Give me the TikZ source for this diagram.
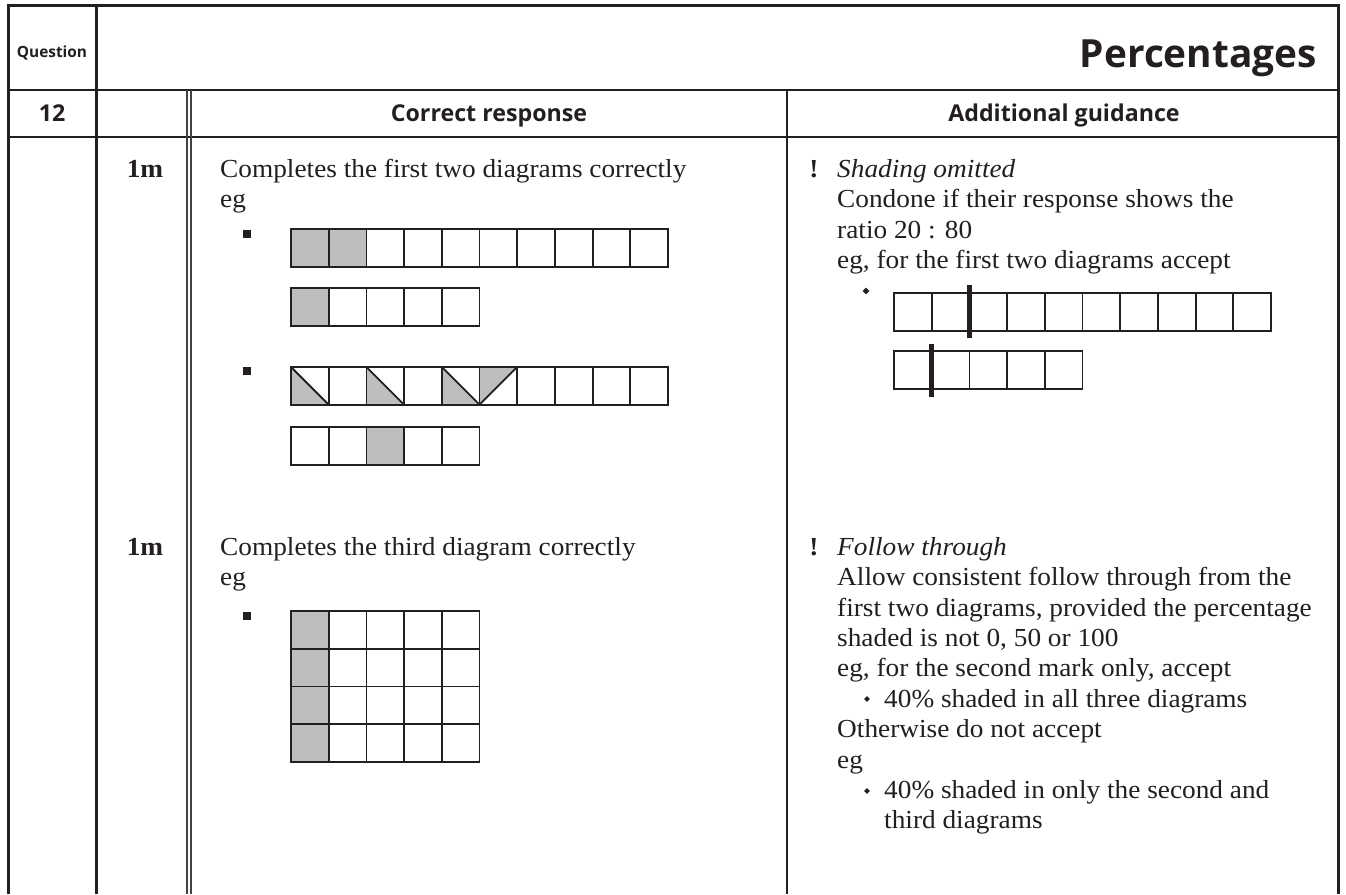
\documentclass[tikz,border=0pt]{standalone}
\usepackage{fontspec}
\setmainfont[FakeStretch=1.05]{Liberation Serif}
\newfontfamily\hsans{Open Sans}
\usetikzlibrary{shapes.geometric}
\definecolor{ink}{HTML}{231F20}
\definecolor{shadegray}{HTML}{BCBEC0}
\newcommand\cellrow[3]{%
  \foreach \ci in {1,...,#3}{\draw[cellline] ({#1+(\ci-1)*37.7},#2) rectangle ++(37.7,37.7);}}
\begin{document}
\begin{tikzpicture}[x=1pt,y=-1pt,
  frame/.style={draw=ink,line width=3pt},
  rule/.style={draw=ink,line width=2pt},
  thinrule/.style={draw=ink!85,line width=1.3pt},
  cellline/.style={draw=ink,line width=1.8pt},
  bar/.style={draw=ink,line width=4.5pt},
  body/.style={anchor=base west,inner sep=0pt,text=ink,font=\fontsize{26}{30}\selectfont},
  ital/.style={body,font=\fontsize{26}{30}\selectfont\itshape},
  markc/.style={anchor=base,inner sep=0pt,text=ink,font=\fontsize{26}{30}\selectfont\bfseries},
  head/.style={anchor=base,inner sep=0pt,text=ink,font=\hsans\bfseries\fontsize{23.2}{27}\selectfont},
  sqbullet/.style={fill=ink,minimum size=8pt,inner sep=0pt,draw=none},
  dbullet/.style={diamond,fill=ink,minimum size=7pt,inner sep=0pt,draw=none}]
\useasboundingbox (0,0) rectangle (1346,894);
\fill[white] (0,0) rectangle (1346,894);

% table rules
\draw[frame] (8,894) -- (8,5) -- (1338,5) -- (1338,894);
\draw[frame] (96,5) -- (96,894);
\draw[rule] (8,90) -- (1338,90);
\draw[rule] (8,137) -- (1338,137);
\draw[thinrule] (187,90) -- (187,894);
\draw[thinrule] (191,90) -- (191,894);
\draw[rule] (787,90) -- (787,894);

% headings
\node[anchor=base,inner sep=0pt,text=ink,font=\hsans\bfseries\fontsize{15.4}{18}\selectfont] (question) at (52,57) {Question};
\node[anchor=base east,inner sep=0pt,text=ink,font=\hsans\bfseries\fontsize{38.8}{44}\selectfont] (title) at (1317,67) {Percentages};
\node[head] (qnum) at (52,121) {12};
\node[head] (correct) at (489,121) {Correct response};
\node[head] (additional) at (1064,121) {Additional guidance};

% marks
\node[markc] (markA) at (145,177) {1m};
\node[markc] (markB) at (145,555) {1m};

% left column text
\node[body] (compA) at (220,177) {Completes the first two diagrams correctly};
\node[body] (egA) at (220,207) {eg};
\node[body] (compB) at (220,555) {Completes the third diagram correctly};
\node[body] (egB) at (220,585) {eg};
\node[sqbullet] (sqA) at (247,234) {};
\node[sqbullet] (sqB) at (247,371) {};
\node[sqbullet] (sqC) at (247,616) {};

% diagram 1 (row A, row B)
\fill[shadegray] (291,229) rectangle ++(75.4,37.7);
\cellrow{291}{229}{10}
\fill[shadegray] (291,288) rectangle ++(37.7,37.7);
\cellrow{291}{288}{5}

% diagram 2 (row C with triangles, row D)
\foreach \k in {0,2,4}{
  \fill[shadegray] ({291+\k*37.7},367) -- ({291+\k*37.7},404.7) -- ({291+(\k+1)*37.7},404.7) -- cycle;
  \draw[cellline] ({291+\k*37.7},367) -- ({291+(\k+1)*37.7},404.7);
}
\fill[shadegray] ({291+5*37.7},367) -- ({291+6*37.7},367) -- ({291+5*37.7},404.7) -- cycle;
\draw[cellline] ({291+5*37.7},404.7) -- ({291+6*37.7},367);
\cellrow{291}{367}{10}
\fill[shadegray] ({291+2*37.7},427) rectangle ++(37.7,37.7);
\cellrow{291}{427}{5}

% diagram 3 (5 x 4 grid)
\fill[shadegray] (291,611) rectangle ++(37.7,150.8);
\foreach \r in {0,1,2,3}{\cellrow{291}{611+\r*37.7}{5}}

% right column: shading omitted
\node[markc] (exA) at (814,177) {!};
\node[ital] (shadA) at (837,177) {Shading omitted};
\node[body] (condA) at (837,207.5) {Condone if their response shows the};
\node[body] (ratioA) at (837,238) {ratio 20 : 80};
\node[body] (egC) at (837,268) {eg, for the first two diagrams accept};
\node[dbullet] (dbA) at (866,291) {};
\cellrow{894}{293}{10}
\cellrow{894}{351}{5}
\draw[bar] (969.4,285) -- (969.4,338);
\draw[bar] (931.7,344) -- (931.7,397);

% right column: follow through
\node[markc] (exB) at (814,555) {!};
\node[ital] (follow) at (837,555) {Follow through};
\node[body] (allow) at (837,585.5) {Allow consistent follow through from the};
\node[body] (firsttwo) at (837,616) {first two diagrams, provided the percentage};
\node[body] (shadedis) at (837,646) {shaded is not 0, 50 or 100};
\node[body] (egD) at (837,676.5) {eg, for the second mark only, accept};
\node[dbullet,minimum size=6pt] (dbB) at (867,699) {};
\node[body] (fortyA) at (884,707) {40\% shaded in all three diagrams};
\node[body] (otherwise) at (837,737.5) {Otherwise do not accept};
\node[body] (egE) at (837,768) {eg};
\node[dbullet,minimum size=6pt] (dbC) at (867,791) {};
\node[body] (fortyB) at (884,798) {40\% shaded in only the second and};
\node[body] (third) at (884,828.5) {third diagrams};
\end{tikzpicture}
\end{document}
